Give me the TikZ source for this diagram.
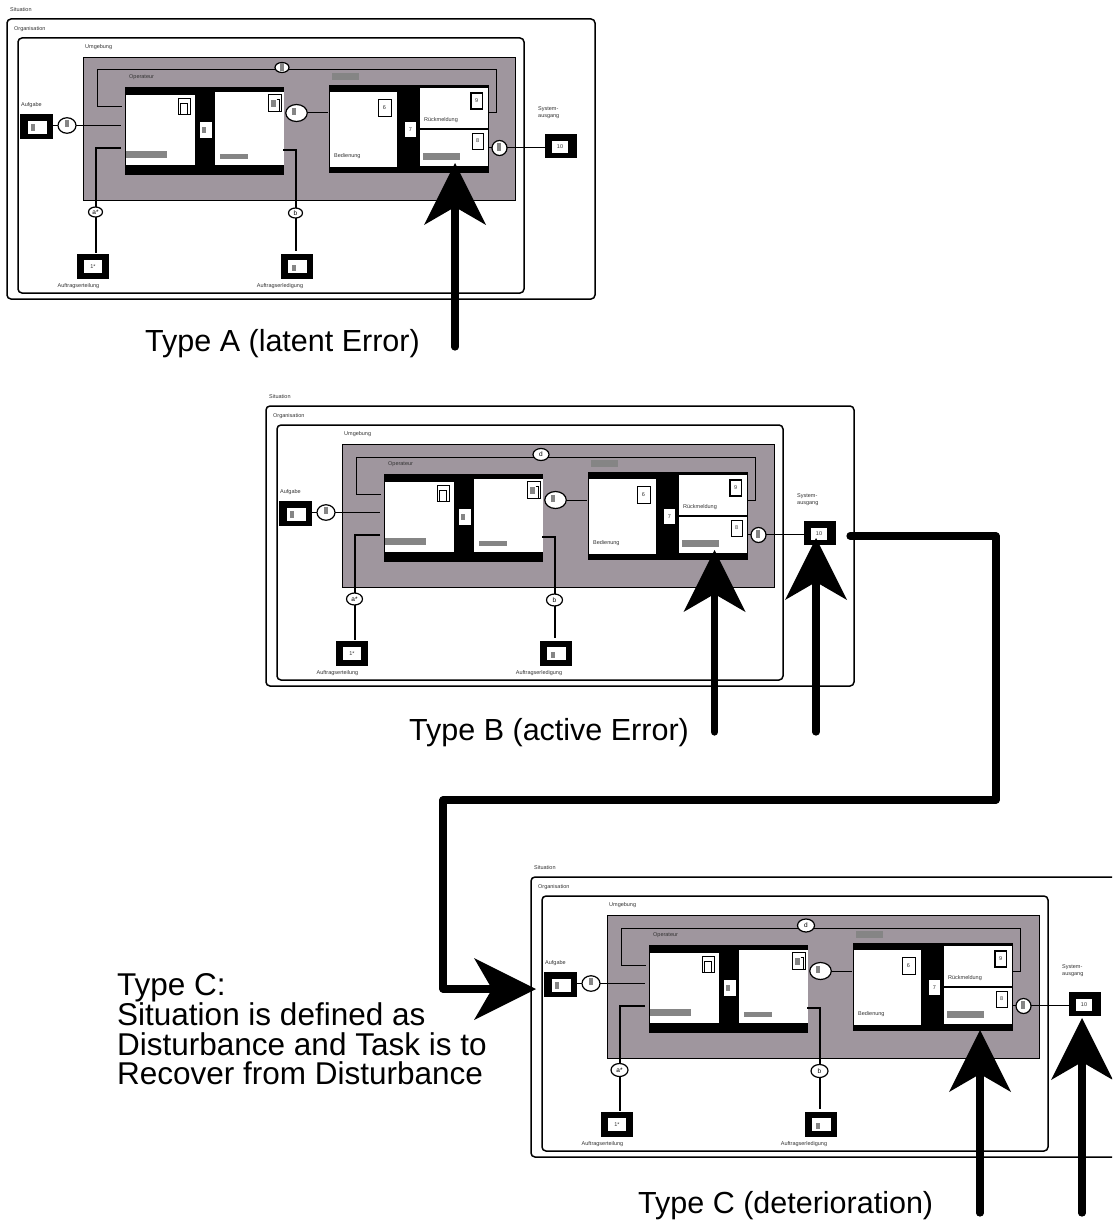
\documentclass[tikz,border=0pt]{standalone}
\usepackage{fontspec}
\setmainfont{Liberation Sans}
\usetikzlibrary{arrows.meta,shapes.geometric,calc}
\definecolor{panelgray}{HTML}{9F969E}
\definecolor{bargray}{HTML}{858585}
\definecolor{smalltext}{HTML}{333333}
\tikzset{
  sm/.style={font=\fontsize{5.5}{6.8}\selectfont,text=smalltext,inner sep=0pt,anchor=west,align=left},
  smc/.style={font=\fontsize{5.5}{6.8}\selectfont,text=smalltext,inner sep=0pt},
  wire/.style={draw=black,line width=1pt},
  heavywire/.style={draw=black,line width=1.35pt},
  frameA/.style={draw=black,line width=1.5pt,rounded corners=4pt},
  blk/.style={fill=black,draw=none},
  wht/.style={fill=white,draw=none},
  bar/.style={fill=bargray,draw=none},
  tinybox/.style={draw=black,fill=white,line width=0.9pt},
  ell/.style={ellipse,draw=black,fill=white,line width=1.2pt,inner sep=0pt,font=\fontsize{6.5}{7}\selectfont},
  big/.style={line width=7.2pt,line cap=round,line join=round,draw=black},
  bigtext/.style={font=\fontsize{30.5}{29.7}\selectfont,inner sep=0pt,anchor=west,align=left},
  bigblock/.style={font=\fontsize{31.5}{29.7}\selectfont,inner sep=0pt,anchor=north west,align=left},
  hd/.style={-{Stealth[length=62pt 0 0,width=62pt 0 0,inset=18pt 0 0,line width=0pt]}},
}
% rectangle node from px corners: name, x1,y1,x2,y2, style, text
\newcommand{\rb}[7]{\path[#6] (#2,#3) rectangle (#4,#5);
  \node[inner sep=0pt,font=\fontsize{5.5}{6}\selectfont,text=smalltext] (#1) at ({(#2+#4)/2},{(#3+#5)/2}) [minimum width={(#4-#2)*1pt},minimum height={(#5-#3)*1pt}] {#7};}
% args: prefix, top ellipse text, top ellipse bar, a*/b ellipse width, height
\newcommand{\panel}[5]{%
  \draw[frameA] (7,19) rectangle (595,299);
  \draw[frameA] (18,38) rectangle (524,293);
  \path[fill=panelgray,draw=black,line width=0.8pt] (83,57) rectangle (515,200);
  \node[sm] (#1sit) at (10,10) {Situation};
  \node[sm] (#1org) at (14,29) {Organisation};
  \node[sm] (#1umg) at (85,47) {Umgebung};
  \node[sm] (#1opr) at (129,77) {Operateur};
  \node[sm] (#1auf) at (21,105) {Aufgabe};
  \node[sm] (#1sys) at (538,112.5) {System-\\ausgang};
  \path[bar] (332,73) rectangle (359,80);
  % operator block
  \rb{#1opb}{125}{87}{284}{175}{blk}{}
  \rb{#1opl}{126}{95}{195}{165}{wht}{}
  \rb{#1opr2}{215}{92}{284}{165}{wht}{}
  \rb{#1opc}{200}{122}{212}{138}{wht}{}
  \path[bar] (202,127) rectangle (206,133);
  \path[bar] (126,151) rectangle (167,158);
  \path[bar] (220,154) rectangle (248,159);
  \draw[tinybox] (178,98) rectangle (190,114);
  \draw[tinybox] (180.5,103) rectangle (187.5,114);
  \draw[tinybox] (268.5,94.5) rectangle (281.5,111);
  \path[bar] (271,100) rectangle (276,107);
  \draw[black,line width=0.7pt] (276.5,99) -- (279,99) -- (279,111);
  % work block
  \rb{#1wkb}{329}{85}{489}{172.5}{blk}{}
  \rb{#1wkl}{330}{92}{397}{166.5}{wht}{}
  \rb{#1wkt}{420}{88}{488}{128}{wht}{}
  \rb{#1wkd}{420}{130}{488}{165.5}{wht}{}
  \rb{#1six}{378}{99}{391}{116}{tinybox}{6}
  \rb{#1nin}{471}{93}{482.5}{109}{tinybox,line width=1.4pt}{9}
  \rb{#1eig}{472}{133}{483.5}{149}{tinybox}{8}
  \rb{#1sev}{405}{122}{416}{137}{wht}{7}
  \path[bar] (423,153) rectangle (460,160);
  \node[sm] (#1bed) at (334,156) {Bedienung};
  \node[sm] (#1ruc) at (424,120) {Rückmeldung};
  % outer boxes
  \rb{#1aub}{20}{114}{53}{139}{blk}{}
  \rb{#1auw}{28}{121}{47}{134}{wht}{}
  \path[bar] (31,124) rectangle (35,131);
  \rb{#1inb}{77}{254}{109}{279}{blk}{}
  \rb{#1inw}{84}{260}{102}{273}{wht}{1*}
  \rb{#1erb}{281}{254}{313}{279}{blk}{}
  \rb{#1erw}{288}{260}{307}{273}{wht}{}
  \path[bar] (292,265) rectangle (296,271);
  \rb{#1tnb}{545}{134}{577}{158}{blk}{}
  \rb{#1tnw}{552}{141}{568}{153}{wht}{10}
  \node[smc] (#1ert) at (78.5,286) {Auftragserteilung};
  \node[smc] (#1ede) at (280,286) {Auftragserledigung};
  % connectors
  \coordinate (#1fa) at (122,107);
  \coordinate (#1fb) at (489,113);
  \coordinate (#1ia) at (121,148);
  \coordinate (#1ib) at (283,150);
  \coordinate (#1mb) at (328,113);
  \coordinate (#1rb) at (489,147);
  \coordinate (#1ap) at (121,125.5);
  \coordinate (#1fr) at (496,113);
  \draw[wire] (#1fb) -- (#1fr) -- (496,70) -- (97,70) -- (97,107) -- (#1fa);
  \draw[heavywire] (#1aub.east |- 0,125.5) -- (#1ap);
  \draw[heavywire] (#1ia) -- (96,148) -- (96,253);
  \draw[heavywire] (#1ib) -- (296,150) -- (296,251);
  \draw[wire] (296,113) -- (#1mb);
  \draw[wire] (#1rb) -- (#1tnb.west |- #1rb);
  % ellipses
  \node[ell,minimum width=18pt,minimum height=15.5pt] (#1ea) at (67,125.5) {};
  \path[bar] (64.5,120) rectangle (68.5,127);
  \node[ell,minimum width=#4pt,minimum height=#5pt] (#1ast) at (95.5,212) {a*};
  \node[ell,minimum width=#4pt,minimum height=#5pt] (#1eb) at (295.5,213) {b};
  \node[ell,minimum width=21.5pt,minimum height=17pt] (#1em) at (296.5,113) {};
  \path[bar] (292,108) rectangle (296,115);
  \node[ell,minimum width=15pt,minimum height=15pt] (#1er) at (499.5,148) {};
  \path[bar] (497,143) rectangle (501,151);
  \node[ell,minimum width=#4pt,minimum height=#5pt,yshift=-0.5pt] (#1ed) at (282,67) {#2};
  #3
}
\begin{document}
\begin{tikzpicture}[x=1pt,y=-1pt]
\useasboundingbox (0,0) rectangle (1112,1220);
\clip (0,0) rectangle (1112,1220);
\begin{scope}[shift={(0,0)}]\panel{A}{}{\path[bar] (280,63.5) rectangle (284,71);}{14}{10}\end{scope}
\begin{scope}[shift={(259,387)}]\panel{B}{d}{}{16}{12}\end{scope}
\begin{scope}[shift={(524,858)}]\panel{C}{d}{}{17}{13}\end{scope}
\node[bigtext] (ta) at (145,344) {Type A (latent Error)};
\node[bigtext] (tb) at (409,733) {Type B (active Error)};
\node[bigtext] (tc) at (638,1206) {Type C (deterioration)};
\node[bigblock] (td) at (117,973.5) {Type C:\\Situation is defined as\\Disturbance and Task is to\\Recover from Disturbance};
\coordinate (a1) at (455,347);
\coordinate (b1) at (714.5,732);
\coordinate (b2) at (816,732);
\coordinate (c1) at (980,1213);
\coordinate (c2) at (1082,1213);
\coordinate (a1t) at (455,163);
\coordinate (b1t) at (714.5,550);
\coordinate (b2t) at (816,538);
\coordinate (c1t) at (980,1030);
\coordinate (c2t) at (1082,1018);
\coordinate (ls) at (850,536);
\coordinate (lt) at (536,989);
\draw[big,hd] (a1) -- (a1t);
\draw[big,hd] (b1) -- (b1t);
\draw[big,hd] (b2) -- (b2t);
\draw[big,hd] (c1) -- (c1t);
\draw[big,hd] (c2) -- (c2t);
\draw[big,hd] (ls) -- (996,536) -- (996,800) -- (443,800) -- (443,989) -- (lt);
\end{tikzpicture}
\end{document}
